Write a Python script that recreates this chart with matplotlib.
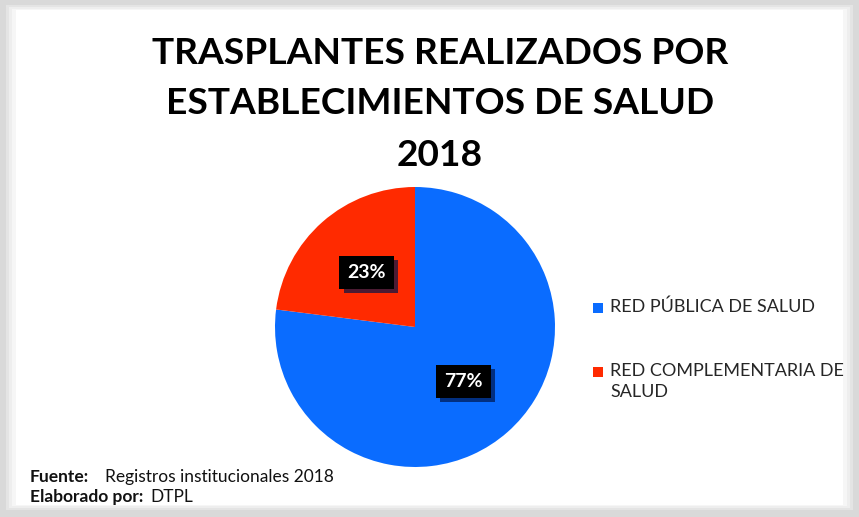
import matplotlib.pyplot as plt
import matplotlib.patheffects as pe
from matplotlib.patches import Rectangle

labels = ['RED PÚBLICA DE SALUD', 'RED COMPLEMENTARIA DE\nSALUD']
values = [77, 23]
colors = ['#0A6CFF', '#FF2A00']
title_lines = ['TRASPLANTES REALIZADOS POR', 'ESTABLECIMIENTOS DE SALUD', '2018']

W, H = 859, 517
fig = plt.figure(figsize=(W / 100, H / 100), dpi=100)
fig.patch.set_facecolor('#d9d9d9')
font = ['Roboto Condensed', 'Lato', 'DejaVu Sans']
body = ['Lato', 'DejaVu Sans']

# background layer in pixel coordinates
bg = fig.add_axes([0, 0, 1, 1])
bg.set_xlim(0, W)
bg.set_ylim(H, 0)
bg.axis('off')
for i, c in enumerate(['#e4e4e4', '#eeeeee', '#f6f6f6']):
    bg.add_patch(Rectangle((6 + i * 3, 5 + i * 2), W - 12 - i * 6, H - 12 - i * 4,
                           facecolor=c, edgecolor='none'))
bg.add_patch(Rectangle((16, 10), W - 32, H - 22, facecolor='white', edgecolor='none'))

# title, sized so the first line is as wide as in the reference
renderer = fig.canvas.get_renderer()
probe = bg.text(0, 0, title_lines[0], fontsize=30, fontweight='bold', family=['Lato', 'DejaVu Sans'])
wpx = probe.get_window_extent(renderer).width
probe.remove()
tsize = 30 * 575 / wpx
for line, y in zip(title_lines, [53, 103, 155]):
    bg.text(440, y, line, ha='center', va='center', fontsize=tsize, fontweight='bold',
            family=['Lato', 'DejaVu Sans'])

fs = 12.5
bg.text(30, 477, 'Fuente:', fontsize=fs, fontweight='bold', family=body, va='center', color='#111111')
bg.text(105, 477, 'Registros institucionales 2018', fontsize=fs, family=body, va='center', color='#111111')
bg.text(30, 497, 'Elaborado por:', fontsize=fs, fontweight='bold', family=body, va='center', color='#111111')
bg.text(150, 497, 'DTPL', fontsize=fs, family=body, va='center', color='#111111')

# pie
ax = fig.add_axes([275 / W, 50 / H, 280 / W, 280 / H])
wedges, texts, autotexts = ax.pie(values, colors=colors, startangle=90, counterclock=False,
                                  autopct='%d%%', pctdistance=0.52,
                                  wedgeprops=dict(linewidth=0))
ax.set_xlim(-1, 1)
ax.set_ylim(-1, 1)
ax.set_aspect('equal')
for t in autotexts:
    t.set_color('white')
    t.set_fontsize(14)
    t.set_fontweight('bold')
    t.set_family(body)
    t.set_bbox(dict(boxstyle='square,pad=0.42', facecolor='black', edgecolor='none'))
    t.get_bbox_patch().set_path_effects([
        pe.SimplePatchShadow(offset=(3, -3), shadow_rgbFace='#00154a', alpha=0.7),
        pe.Normal()])

# legend
leg_y = [308, 372]
for lab, c, y in zip(labels, colors, leg_y):
    bg.add_patch(Rectangle((593, y - 5), 10, 10, facecolor=c, edgecolor='none'))
    bg.text(610, y - 9, lab, fontsize=13, family=body, va='top',
            color='#262626', linespacing=1.4)

fig.savefig('out.png', dpi=100, facecolor=fig.get_facecolor())
